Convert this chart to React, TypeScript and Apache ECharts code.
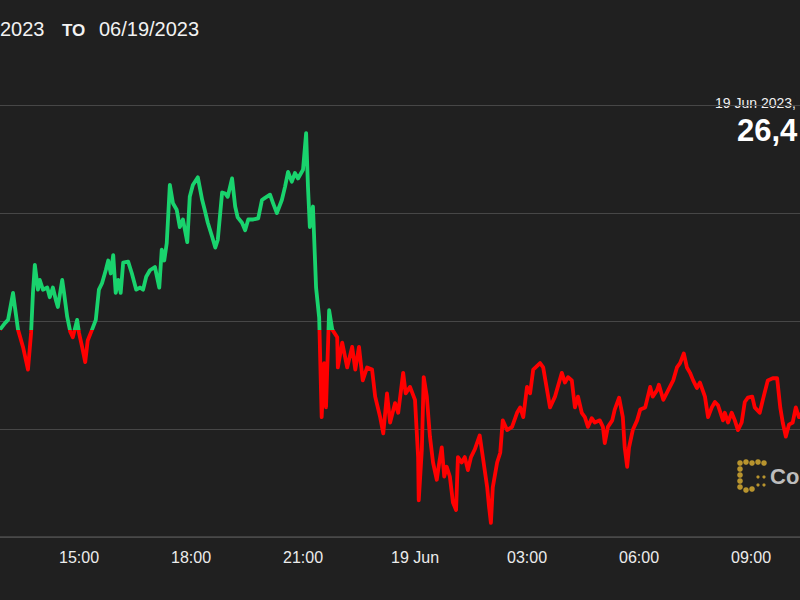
import React, { useEffect, useRef } from "react";
import * as echarts from "echarts";

// minutes since 2023-06-18 00:00
const timeMinutes = [
  773, 781, 786, 794, 797, 802, 810, 818, 823, 826, 829, 834, 837, 842, 849, 853, 858, 863, 866, 873,
  876, 881, 886, 890, 897, 900, 905, 910, 914, 921, 927, 932, 937, 943, 947, 951, 955, 959, 963, 967,
  971, 979, 985, 992, 998, 1003, 1008, 1014, 1022, 1029, 1033, 1037, 1041, 1046, 1051, 1057, 1062, 1067, 1074, 1078,
  1083, 1091, 1098, 1102, 1107, 1114, 1119, 1123, 1130, 1135, 1139, 1146, 1151, 1155, 1162, 1167, 1172, 1180, 1188, 1194,
  1199, 1207, 1212, 1218, 1226, 1231, 1236, 1242, 1247, 1252, 1260, 1265, 1268, 1271, 1276, 1281, 1286, 1290, 1294, 1297,
  1302, 1307, 1315, 1316, 1323, 1331, 1339, 1344, 1350, 1356, 1363, 1371, 1376, 1384, 1389, 1395, 1400, 1408, 1413, 1421,
  1425, 1432, 1440, 1445, 1446, 1451, 1454, 1459, 1464, 1469, 1475, 1479, 1483, 1487, 1491, 1496, 1501, 1506, 1509, 1515,
  1520, 1525, 1530, 1536, 1544, 1549, 1556, 1559, 1562, 1565, 1572, 1577, 1581, 1588, 1596, 1604, 1609, 1614, 1620, 1625,
  1630, 1641, 1646, 1657, 1665, 1676, 1681, 1686, 1692, 1697, 1702, 1708, 1713, 1718, 1724, 1729, 1737, 1742, 1745, 1750,
  1757, 1761, 1768, 1774, 1777, 1781, 1784, 1790, 1797, 1802, 1810, 1818, 1822, 1829, 1832, 1839, 1847, 1855, 1861, 1866,
  1872, 1877, 1882, 1887, 1893, 1898, 1906, 1911, 1917, 1922, 1927, 1935, 1938, 1943, 1949, 1954, 1959, 1965, 1970, 1975,
  1982, 1986, 1994, 1999, 2007, 2015, 2022, 2027, 2031, 2036, 2041, 2047, 2052, 2057, 2063, 2070,
];

const prices = [
  26492, 26498, 26501, 26526, 26513, 26492, 26476, 26455, 26489, 26526, 26552, 26529, 26538, 26529, 26531, 26522, 26531, 26519, 26513, 26538,
  26526, 26504, 26490, 26485, 26501, 26489, 26476, 26462, 26482, 26492, 26501, 26529, 26535, 26547, 26556, 26544, 26561, 26526, 26538, 26526,
  26554, 26555, 26544, 26529, 26531, 26529, 26541, 26547, 26550, 26531, 26566, 26556, 26572, 26626, 26609, 26603, 26587, 26594, 26573, 26615,
  26626, 26633, 26612, 26603, 26591, 26578, 26568, 26575, 26619, 26618, 26615, 26632, 26606, 26596, 26591, 26584, 26594, 26594, 26595, 26612,
  26614, 26617, 26609, 26600, 26612, 26624, 26638, 26629, 26637, 26632, 26640, 26674, 26624, 26587, 26606, 26531, 26503, 26411, 26461, 26420,
  26510, 26492, 26485, 26457, 26480, 26457, 26476, 26455, 26476, 26445, 26457, 26455, 26430, 26411, 26396, 26433, 26406, 26424, 26415, 26452,
  26433, 26439, 26427, 26374, 26334, 26381, 26448, 26430, 26393, 26369, 26353, 26369, 26383, 26356, 26365, 26356, 26332, 26325, 26374, 26369,
  26374, 26362, 26374, 26381, 26394, 26374, 26346, 26328, 26313, 26346, 26369, 26378, 26408, 26399, 26402, 26415, 26420, 26411, 26439, 26433,
  26455, 26461, 26457, 26420, 26430, 26452, 26443, 26448, 26445, 26420, 26430, 26415, 26411, 26402, 26410, 26406, 26408, 26402, 26387, 26402,
  26408, 26418, 26429, 26411, 26383, 26365, 26383, 26399, 26408, 26418, 26420, 26439, 26430, 26436, 26441, 26427, 26436, 26445, 26457, 26461,
  26470, 26457, 26452, 26445, 26438, 26443, 26430, 26411, 26420, 26425, 26422, 26408, 26415, 26406, 26415, 26408, 26399, 26406, 26425, 26429,
  26430, 26420, 26415, 26427, 26445, 26447, 26447, 26420, 26406, 26393, 26404, 26406, 26420, 26411, 26416, 26418,
];

const xTickLabels = ["12:00", "15:00", "18:00", "21:00", "19 Jun", "03:00", "06:00", "09:00", "12:00"];
const openPrice = 26492;
const dateFrom = "2023";
const dateTo = "06/19/2023";
const latestDate = "19 Jun 2023,";
const latestPrice = "26,4";

const BG = "#202020";
const GREEN = "#19d36d";
const RED = "#ff0000";
const GOLD = "#b8942e";
const OFF = 33; // chart canvas starts 33px left of the visible frame

export default function App() {
  const ref = useRef<HTMLDivElement>(null);

  useEffect(() => {
    if (!ref.current) return;
    const chart = echarts.init(ref.current, undefined, { renderer: "svg" });
    const data = timeMinutes.map((t, i) => [t, prices[i]]);
    const maxP = Math.max(...prices);
    const minP = Math.min(...prices);
    const f = (maxP - openPrice) / (maxP - minP);

    const logoDots: any[] = [];
    const big = [
      [740, 463], [746, 462], [752, 463], [758, 462], [764, 463],
      [740, 469], [740, 475], [740, 481], [740, 487],
      [746, 490], [752, 489],
    ];
    big.forEach(([cx, cy]) =>
      logoDots.push({ type: "circle", shape: { cx: cx + OFF, cy, r: 2.8 }, style: { fill: GOLD } })
    );
    [[758, 477], [764, 477], [758, 485], [764, 485]].forEach(([cx, cy]) =>
      logoDots.push({ type: "circle", shape: { cx: cx + OFF, cy, r: 1.6 }, style: { fill: GOLD } })
    );

    chart.setOption({
      animation: false,
      backgroundColor: BG,
      grid: {
        left: 0,
        right: 0,
        top: 105,
        bottom: 63,
        containLabel: false,
        outerBoundsMode: "none",
      },
      xAxis: {
        type: "value",
        min: 720,
        max: 2160,
        interval: 180,
        axisLine: { show: true, lineStyle: { color: "#4a4a4a", width: 1.5 } },
        axisTick: { show: false },
        splitLine: { show: false },
        axisLabel: {
          color: "#ececec",
          fontSize: 16,
          fontFamily: "Liberation Sans, Arial, sans-serif",
          margin: 12,
          showMinLabel: false,
          showMaxLabel: false,
          formatter: (v: number) => xTickLabels[Math.round((v - 720) / 180)] ?? "",
        },
      },
      yAxis: {
        type: "value",
        min: 26300,
        max: 26700,
        interval: 100,
        position: "right",
        axisLabel: { show: false },
        axisLine: { show: false },
        axisTick: { show: false },
        splitLine: { show: true, lineStyle: { color: "#474747", width: 1 } },
      },
      series: [
        {
          type: "line",
          data,
          showSymbol: false,
          symbol: "none",
          lineStyle: {
            width: 3.8,
            join: "round",
            color: new echarts.graphic.LinearGradient(0, 0, 0, 1, [
              { offset: 0, color: GREEN },
              { offset: f, color: GREEN },
              { offset: f, color: RED },
              { offset: 1, color: RED },
            ]),
          },
        },
      ],
      graphic: [
        {
          type: "text",
          left: 0 + OFF,
          top: 19,
          style: { text: dateFrom, fill: "#f2f2f2", font: "20px 'Liberation Sans', Arial, sans-serif" },
        },
        {
          type: "text",
          left: 62 + OFF,
          top: 22,
          style: { text: "TO", fill: "#f2f2f2", font: "bold 17px 'Liberation Sans', Arial, sans-serif" },
        },
        {
          type: "text",
          left: 99 + OFF,
          top: 19,
          style: { text: dateTo, fill: "#f2f2f2", font: "20px 'Liberation Sans', Arial, sans-serif" },
        },
        {
          type: "text",
          left: 713 + OFF,
          top: 96,
          style: {
            text: latestDate,
            fill: "#f0f0f0",
            font: "14px 'Liberation Sans', Arial, sans-serif",
            backgroundColor: BG,
            padding: [0, 0, 0, 2],
          },
        },
        {
          type: "text",
          left: 737 + OFF,
          top: 115,
          style: { text: latestPrice, fill: "#ffffff", font: "bold 31px 'Liberation Sans', Arial, sans-serif" },
        },
        ...logoDots,
        {
          type: "text",
          left: 770 + OFF,
          top: 465,
          style: { text: "Co", fill: "#bdbdbd", font: "bold 22px 'Liberation Sans', Arial, sans-serif" },
        },
      ],
    });
    return () => chart.dispose();
  }, []);

  return (
    <div
      style={{
        position: "fixed",
        left: 0,
        top: 0,
        width: 800,
        height: 600,
        overflow: "hidden",
        background: BG,
      }}
    >
      <div
        ref={ref}
        style={{ position: "absolute", left: -OFF, top: 0, width: 896, height: 600 }}
      />
    </div>
  );
}
